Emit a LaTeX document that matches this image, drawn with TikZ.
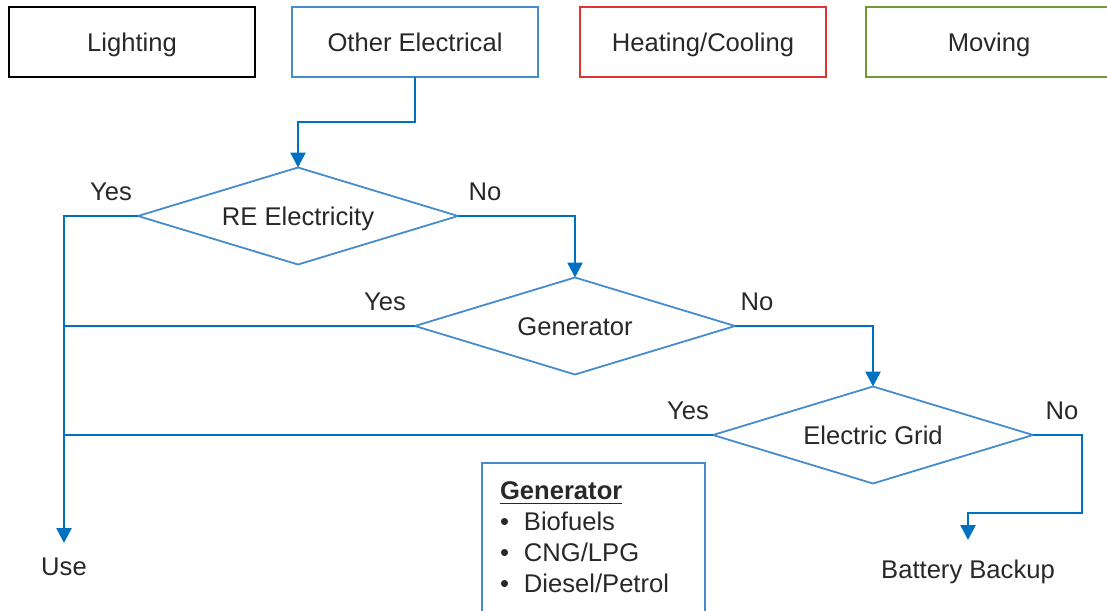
\documentclass[tikz,border=0pt]{standalone}
\usepackage{fontspec}
\setmainfont{Liberation Sans}
\usetikzlibrary{shapes.geometric,arrows.meta,positioning}
\definecolor{flowblue}{RGB}{0,112,192}
\definecolor{edgeblue}{RGB}{70,140,205}
\definecolor{boxred}{RGB}{225,50,50}
\definecolor{boxgreen}{RGB}{110,155,55}
\definecolor{txtgray}{RGB}{40,40,40}

\begin{document}
\begin{tikzpicture}[x=0.5pt,y=-0.5pt,
  every node/.style={font=\fontsize{12.8}{15.5}\selectfont, text=txtgray, outer sep=0pt},
  catbox/.style={draw, line width=1pt, minimum width=123pt, minimum height=35pt, inner sep=0pt, text height=9.2pt, text depth=0pt},
  decide/.style={diamond, draw=edgeblue, line width=0.9pt, minimum width=160pt, minimum height=48.5pt, inner sep=0pt, aspect=3.3, text height=9.2pt, text depth=0pt},
  flow/.style={draw=flowblue, line width=1.3pt},
  tip/.style={flow, -{Triangle[width=7.5pt,length=7.5pt]}},
  lbl/.style={inner sep=0pt}]
\clip (0,0) rectangle (1107,610);
\foreach \nm/\col/\x/\txt in {light/black/132/Lighting, oe/edgeblue/415/{Other Electrical}, heat/boxred/703/{Heating/Cooling}, move/boxgreen/989/Moving} {
\node[catbox, draw=\col] (\nm) at (\x,42) {\txt};
}
\node[decide] (re) at (298,216) {RE Electricity};
\node[decide] (gen) at (575,326) {Generator};
\node[decide] (grid) at (873,435) {Electric Grid};
\coordinate (usetip) at (64,543);
\coordinate (battip) at (968,540);
\node[lbl, below=7.5pt of usetip] (use) {Use};
\node[lbl, below=10pt of battip] (bat) {Battery Backup};
\draw[tip] (oe.south) -- ++(0,45) -| (re.north);
\draw[tip] (re.west) -| (usetip);
\draw[tip] (re.east) -| (gen.north);
\draw[tip] (gen.east) -| (grid.north);
\draw[flow] (gen.west) -- (gen.west -| usetip);
\draw[flow] (grid.west) -- (grid.west -| usetip);
\draw[tip] (grid.east) -| (1082,513) -| (battip);
\node[lbl] (reyes) at ([shift={(-27,-24)}]re.west) {Yes};
\node[lbl] (reno) at ([shift={(27,-24)}]re.east) {No};
\node[lbl] (genyes) at ([shift={(-30,-24)}]gen.west) {Yes};
\node[lbl] (genno) at ([shift={(22,-24)}]gen.east) {No};
\node[lbl] (gridyes) at ([shift={(-25,-24)}]grid.west) {Yes};
\node[lbl] (gridno) at ([shift={(29,-24)}]grid.east) {No};
% fuel list
\node[draw=edgeblue, line width=1pt, anchor=north west, inner xsep=9pt, inner ysep=9.5pt] (genlist) at (482,463) {\begin{minipage}[t][80pt][t]{93.5pt}
\underline{\textbf{Generator}}\\
\textbullet\hspace{7.5pt}Biofuels\\
\textbullet\hspace{7.5pt}CNG/LPG\\
\textbullet\hspace{7.5pt}Diesel/Petrol
\end{minipage}};
\end{tikzpicture}
\end{document}
